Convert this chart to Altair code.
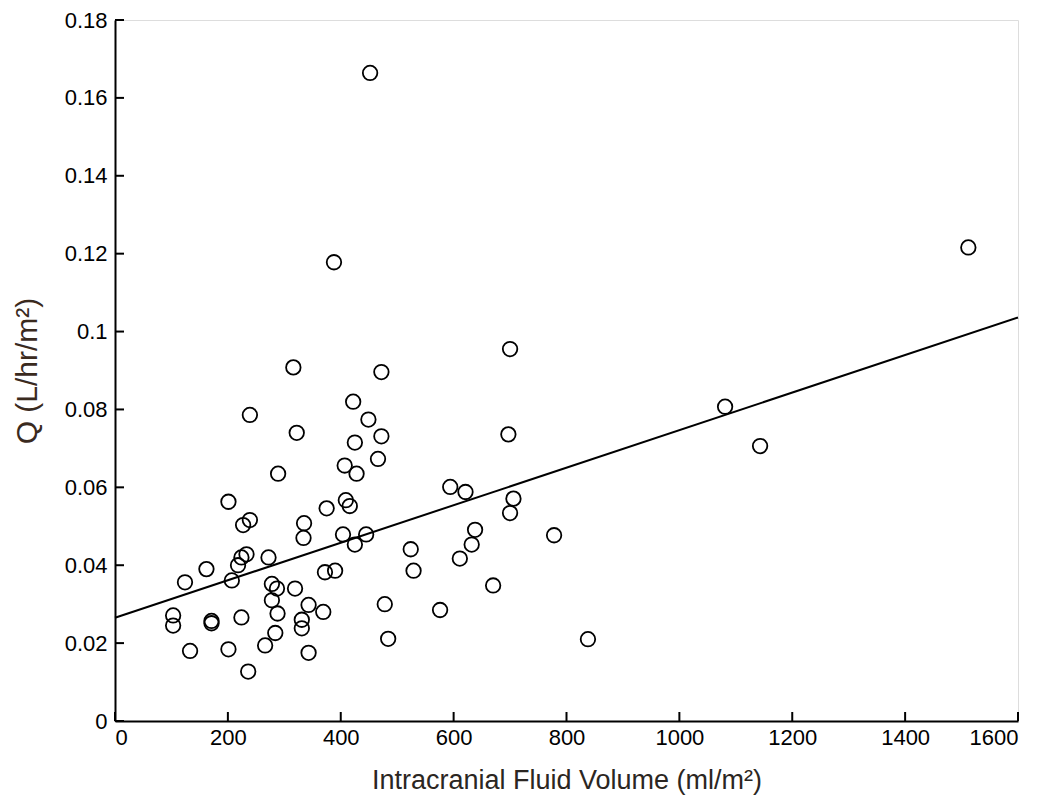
import altair as alt
import pandas as pd

# Scatter data: intracranial fluid volume (ml/m^2) vs Q (L/hr/m^2)
volume = [452, 1512, 388, 700, 316, 472, 422, 1081, 239, 449, 322, 697, 472, 425, 1143,
          466, 407, 289, 428, 594, 621, 706, 201, 409, 416, 375, 700, 239, 227, 335,
          638, 404, 445, 334, 778, 425, 632, 524, 233, 224, 272, 611, 218, 162, 529,
          390, 372, 207, 124, 278, 670, 287, 319, 278, 343, 478, 576, 369, 288, 103,
          224, 171, 331, 171, 103, 331, 284, 484, 838, 266, 201, 133, 343, 236]
q_value = [0.1664, 0.1216, 0.1178, 0.0955, 0.0908, 0.0896, 0.0820, 0.0807, 0.0786, 0.0774,
           0.0740, 0.0736, 0.0731, 0.0715, 0.0706, 0.0673, 0.0656, 0.0635, 0.0635, 0.0601,
           0.0588, 0.0571, 0.0563, 0.0567, 0.0552, 0.0546, 0.0534, 0.0516, 0.0503, 0.0508,
           0.0491, 0.0479, 0.0479, 0.0470, 0.0477, 0.0453, 0.0453, 0.0441, 0.0428, 0.0420,
           0.0420, 0.0417, 0.0400, 0.0390, 0.0386, 0.0386, 0.0382, 0.0361, 0.0356, 0.0352,
           0.0348, 0.0340, 0.0340, 0.0310, 0.0298, 0.0300, 0.0285, 0.0280, 0.0276, 0.0271,
           0.0266, 0.0257, 0.0260, 0.0251, 0.0245, 0.0238, 0.0226, 0.0211, 0.0210, 0.0194,
           0.0184, 0.0180, 0.0175, 0.0127]

# Fitted regression line endpoints
fit_x = [0, 1600]
fit_y = [0.0265, 0.1036]

# Tick values
x_ticks = [0, 200, 400, 600, 800, 1000, 1200, 1400, 1600]
y_ticks = [0, 0.02, 0.04, 0.06, 0.08, 0.1, 0.12, 0.14, 0.16, 0.18]

W, H = 903, 701
FONT = "Liberation Sans"

pts = pd.DataFrame({"vol": volume, "q": q_value})
fit = pd.DataFrame({"vol": fit_x, "q": fit_y})
xt = pd.DataFrame({"v": x_ticks})
yt = pd.DataFrame({"v": y_ticks})

xscale = alt.Scale(domain=[0, 1600], nice=False, zero=False)
yscale = alt.Scale(domain=[0, 0.18], nice=False, zero=False)

x_axis = alt.Axis(values=x_ticks, format="d", ticks=False, tickSize=0, grid=False,
                  labelFontSize=22, labelFont=FONT, labelColor="black", labelPadding=6,
                  domainColor="black", domainWidth=2,
                  title="Intracranial Fluid Volume (ml/m²)", titleFont=FONT,
                  titleFontSize=27, titleFontWeight="normal", titleColor="#2b2622",
                  titlePadding=19)
y_axis = alt.Axis(values=y_ticks, labelExpr="datum.value == 0 ? '0' : format(datum.value, '.2~f')",
                  ticks=False, tickSize=0, grid=False,
                  labelFontSize=22, labelFont=FONT, labelColor="black", labelPadding=8,
                  domainColor="black", domainWidth=2,
                  title="Q (L/hr/m²)", titleFont=FONT, titleFontSize=30,
                  titleFontWeight="normal", titleColor="#3a2a1e", titlePadding=22)

points = alt.Chart(pts).mark_point(shape="circle", filled=False, size=210,
                                   strokeWidth=1.8, color="black", opacity=1).encode(
    x=alt.X("vol:Q", scale=xscale, axis=x_axis),
    y=alt.Y("q:Q", scale=yscale, axis=y_axis),
)

line = alt.Chart(fit).mark_line(color="black", strokeWidth=2).encode(
    x=alt.X("vol:Q", scale=xscale),
    y=alt.Y("q:Q", scale=yscale),
)

xtick_marks = alt.Chart(xt).mark_rule(color="black", strokeWidth=2).encode(
    x=alt.X("v:Q", scale=xscale),
    y=alt.value(H),
    y2=alt.value(H - 9),
)

ytick_marks = alt.Chart(yt).mark_rule(color="black", strokeWidth=2).encode(
    y=alt.Y("v:Q", scale=yscale),
    x=alt.value(0),
    x2=alt.value(9),
)

chart = alt.layer(points, line, xtick_marks, ytick_marks).properties(
    width=W, height=H,
    autosize=alt.AutoSizeParams(type="none"),
    padding={"left": 107, "top": 12, "right": 20, "bottom": 78},
).configure_view(stroke=None).configure(background="white")

chart.save("out.html", embed_options={"renderer": "svg", "actions": False})
